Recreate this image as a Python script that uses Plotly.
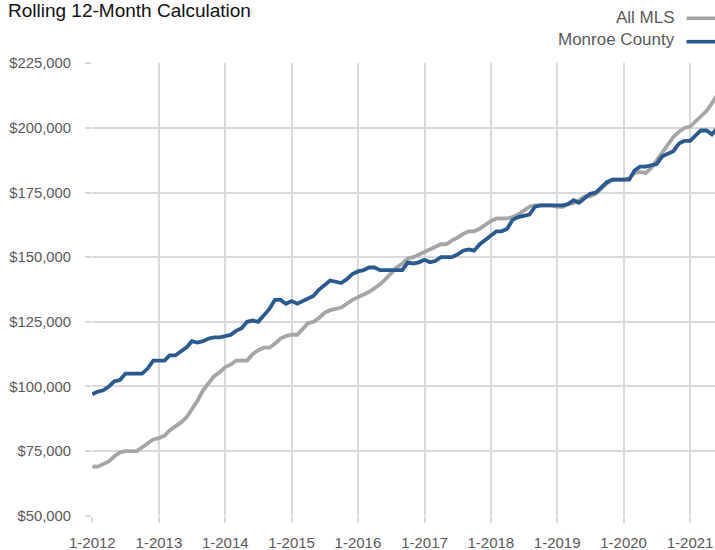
import pandas as pd
import plotly.graph_objects as go

months = pd.date_range("2012-01-01", periods=114, freq="MS")

all_mls = [
    69000, 69000, 70000, 71000, 73000, 74500, 75000, 75000, 75000, 76500, 78000, 79500,
    80000, 81000, 83000, 84500, 86000, 88000, 91000, 94500, 98500, 101500, 104000, 105500,
    107500, 108500, 110000, 110000, 110000, 112500, 114000, 115000, 115000, 116500, 118500, 119500,
    120000, 120000, 122000, 124500, 125000, 126500, 128500, 129500, 130000, 130500, 132000, 133500,
    134500, 135500, 136500, 138000, 139500, 141500, 143500, 146000, 147500, 149500, 150000, 151000,
    152000, 153000, 154000, 155000, 155000, 156500, 157500, 159000, 160000, 160000, 161000, 162500,
    164000, 165000, 165000, 165000, 165500, 166500, 168000, 169500, 170000, 170000, 170000, 170000,
    169500, 169500, 170500, 171000, 172000, 173500, 173500, 174500, 176500, 178500, 180000, 180000,
    180000, 180500, 182500, 183000, 182500, 184500, 187500, 191000, 194000, 196500, 198500, 200000,
    200500, 202500, 204500, 206500, 209500, 213000,
]

monroe = [
    97000, 98000, 98500, 100000, 102000, 102500, 105000, 105000, 105000, 105000, 107000, 110000,
    110000, 110000, 112000, 112000, 113500, 115000, 117500, 117000, 117500, 118500, 119000, 119000,
    119500, 120000, 121500, 122500, 125000, 125500, 125000, 127500, 130000, 133500, 133500, 132000,
    133000, 132000, 133000, 134000, 135000, 137500, 139000, 141000, 140500, 140000, 141500, 143500,
    144500, 145000, 146000, 146000, 145000, 145000, 145000, 145000, 145000, 148000, 147500, 148000,
    149000, 148000, 148500, 150000, 150000, 150000, 151000, 152500, 153000, 152500, 155000, 156500,
    158000, 160000, 160000, 161000, 164500, 165500, 166000, 166500, 169500, 170000, 170000, 170000,
    170000, 170000, 170500, 172000, 171000, 173000, 174500, 175000, 177000, 179000, 180000, 180000,
    180000, 180000, 183500, 185000, 185000, 185500, 186000, 189000, 190000, 191000, 194000, 195000,
    195000, 197000, 199000, 199000, 197500, 200000,
]

series_names = ["All MLS", "Monroe County"]
series_colors = ["#a5a5a5", "#285a8f"]
y_ticks = [50000, 75000, 100000, 125000, 150000, 175000, 200000, 225000]
y_tick_labels = ["$50,000", "$75,000", "$100,000", "$125,000", "$150,000", "$175,000", "$200,000", "$225,000"]
x_ticks = pd.date_range("2012-01-01", periods=10, freq="12MS")
x_tick_labels = [f"1-{d.year}" for d in x_ticks]

FONT = "Liberation Sans, Arial, sans-serif"
GRID = "#d9d9d9"
W, H = 715, 550
L, R, T, B = 92, 0, 63, 34
PW, PH = W - L - R, H - T - B


def px_x(x):
    return (x - L) / PW


def px_y(y):
    return 1 - (y - T) / PH


fig = go.Figure()
for name, vals, col in zip(series_names, [all_mls, monroe], series_colors):
    fig.add_trace(go.Scatter(x=months, y=vals, mode="lines", name=name,
                             line=dict(color=col, width=3.8), showlegend=False))

fig.update_layout(
    width=W, height=H,
    margin=dict(l=L, r=R, t=T, b=B),
    paper_bgcolor="white", plot_bgcolor="white",
    font=dict(family=FONT, color="#595959"),
    xaxis=dict(
        range=["2011-12-30", "2021-05-18"],
        tickvals=list(x_ticks), ticktext=x_tick_labels,
        showgrid=True, gridcolor=GRID, gridwidth=2,
        ticks="outside", ticklen=6, tickcolor=GRID, tickwidth=2,
        tickfont=dict(size=15, color="#595959", family=FONT),
        ticklabelstandoff=7,
        showline=False, zeroline=False,
    ),
    yaxis=dict(
        range=[49900, 225100],
        tickvals=y_ticks, ticktext=y_tick_labels,
        showgrid=True, gridcolor=GRID, gridwidth=2,
        ticks="outside", ticklen=6, tickcolor=GRID, tickwidth=2,
        tickfont=dict(size=14.8, color="#595959", family=FONT),
        ticklabelstandoff=11,
        showline=False, zeroline=False,
    ),
)

fig.add_annotation(text="Rolling 12-Month Calculation", xref="paper", yref="paper",
                   x=px_x(6), y=px_y(10), xanchor="left", yanchor="middle",
                   showarrow=False, font=dict(size=19, color="#111111", family=FONT))

legend_text_y = [17.3, 39.6]
legend_line_y = [18.3, 41.7]
for name, col, ty, ly in zip(series_names, series_colors, legend_text_y, legend_line_y):
    fig.add_annotation(text=name, xref="paper", yref="paper", x=px_x(677), y=px_y(ty),
                       xanchor="right", yanchor="middle", showarrow=False,
                       font=dict(size=17, color="#595959", family=FONT))
    fig.add_shape(type="line", xref="paper", yref="paper",
                  x0=px_x(686.5), x1=px_x(716), y0=px_y(ly), y1=px_y(ly),
                  line=dict(color=col, width=3.6))

fig.write_html("out.html", config={"displayModeBar": False},
               post_script="document.body.style.margin='0';")
